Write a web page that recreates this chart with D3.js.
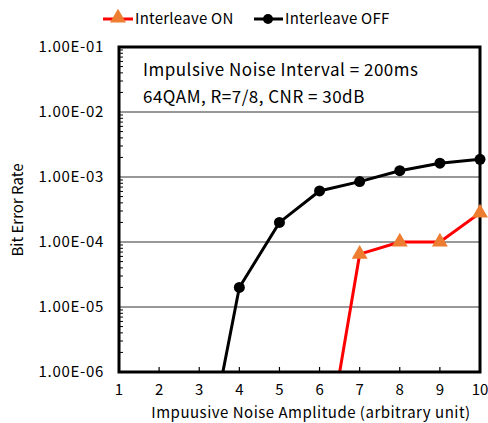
<!DOCTYPE html>
<html><head><meta charset="utf-8">
<script src="https://cdn.jsdelivr.net/npm/d3@7"></script>
<style>body{margin:0;background:#fff;} text{font-family:"Noto Sans CJK JP","DejaVu Sans",sans-serif;}</style>
</head><body>
<svg id="c" width="488" height="423"></svg>
<script>
const xTicks = [1,2,3,4,5,6,7,8,9,10];
const yTickLabels = ["1.00E-01","1.00E-02","1.00E-03","1.00E-04","1.00E-05","1.00E-06"];
const yTickValues = [1e-1,1e-2,1e-3,1e-4,1e-5,1e-6];
const offX = [3,4,5,6,7,8,9,10];
const offY = [1.35e-8,2.0e-5,2.0e-4,6.1e-4,8.5e-4,1.25e-3,1.63e-3,1.87e-3];
const onX = [6,7,8,9,10];
const onY = [1.5e-8,6.5e-5,1.0e-4,1.0e-4,2.8e-4];
const seriesNames = ["Interleave ON","Interleave OFF"];
const annot = ["Impulsive Noise Interval = 200ms","64QAM, R=7/8, CNR = 30dB"];

const svg = d3.select("#c");
const L=119,R=480,T=47,B=372;
const x = d3.scaleLinear().domain([1,10]).range([L,R]);
const y = d3.scaleLog().domain([1e-6,1e-1]).range([B,T]);

// gridlines
svg.append("g").selectAll("line").data(yTickValues.slice(1,5)).join("line")
  .attr("x1",L).attr("x2",R).attr("y1",d=>y(d)).attr("y2",d=>y(d))
  .attr("stroke","#333").attr("stroke-width",1.2);

// minor ticks on left axis
const minors=[];
for(let e=-6;e<-1;e++){for(let m=2;m<=9;m++)minors.push(m*Math.pow(10,e));}
svg.append("g").selectAll("line").data(minors).join("line")
  .attr("x1",L).attr("x2",L+4).attr("y1",d=>y(d)).attr("y2",d=>y(d))
  .attr("stroke","#000").attr("stroke-width",1);

// x ticks
svg.append("g").selectAll("line").data(xTicks).join("line")
  .attr("x1",d=>x(d)).attr("x2",d=>x(d)).attr("y1",B).attr("y2",B-5)
  .attr("stroke","#000").attr("stroke-width",1.2);

// clip
svg.append("clipPath").attr("id","clip").append("rect")
  .attr("x",L).attr("y",T).attr("width",R-L).attr("height",B-T);

const line = d3.line().x(d=>x(d[0])).y(d=>y(d[1]));
const off = offX.map((v,i)=>[v,offY[i]]);
const on = onX.map((v,i)=>[v,onY[i]]);
const g = svg.append("g").attr("clip-path","url(#clip)");
g.append("path").datum(off).attr("d",line).attr("fill","none").attr("stroke","#000").attr("stroke-width",3);
g.append("path").datum(on).attr("d",line).attr("fill","none").attr("stroke","#ff0000").attr("stroke-width",3);

// frame
svg.append("rect").attr("x",L).attr("y",T).attr("width",R-L).attr("height",B-T)
  .attr("fill","none").attr("stroke","#000").attr("stroke-width",3);

// markers
svg.append("g").selectAll("circle").data(off.filter(d=>d[1]>=1e-6)).join("circle")
  .attr("cx",d=>x(d[0])).attr("cy",d=>y(d[1])).attr("r",5.5).attr("fill","#000");
const tri = d3.symbol().type(d3.symbolTriangle).size(110);
svg.append("g").selectAll("path").data(on.filter(d=>d[1]>=1e-6)).join("path")
  .attr("d",tri).attr("transform",d=>`translate(${x(d[0])},${y(d[1])})`).attr("fill","#ed7d31");

// y labels
svg.append("g").selectAll("text").data(yTickValues).join("text")
  .attr("x",104).attr("y",d=>y(d)+5).attr("text-anchor","end")
  .attr("font-size",15).attr("letter-spacing",0.7).attr("fill","#000").text((d,i)=>yTickLabels[i]);
// x labels
svg.append("g").selectAll("text").data(xTicks).join("text")
  .attr("x",d=>x(d)).attr("y",395).attr("text-anchor","middle")
  .attr("font-size",15).attr("fill","#000").text(d=>d);

svg.append("text").attr("transform","translate(23,210) rotate(-90)").attr("text-anchor","middle")
  .attr("font-size",15).text("Bit Error Rate");
svg.append("text").attr("x",311).attr("y",418).attr("text-anchor","middle")
  .attr("font-size",15).attr("letter-spacing",0.5).text("Impuusive Noise Amplitude (arbitrary unit)");

// annotation
svg.append("g").selectAll("text").data(annot).join("text")
  .attr("x",143).attr("y",(d,i)=>76+i*27).attr("font-size",17).attr("letter-spacing",0.5).text(d=>d);

// legend
const lg = svg.append("g");
lg.append("line").attr("x1",103).attr("x2",133).attr("y1",19).attr("y2",19).attr("stroke","#ff0000").attr("stroke-width",3);
lg.append("path").attr("d",tri).attr("transform","translate(118,18)").attr("fill","#ed7d31");
lg.append("text").attr("x",135).attr("y",24).attr("font-size",15).attr("letter-spacing",0.25).text(seriesNames[0]);
lg.append("line").attr("x1",254).attr("x2",283).attr("y1",19).attr("y2",19).attr("stroke","#000").attr("stroke-width",3);
lg.append("circle").attr("cx",268).attr("cy",19).attr("r",5).attr("fill","#000");
lg.append("text").attr("x",285).attr("y",24).attr("font-size",15).attr("letter-spacing",0.25).text(seriesNames[1]);
</script>
</body></html>
